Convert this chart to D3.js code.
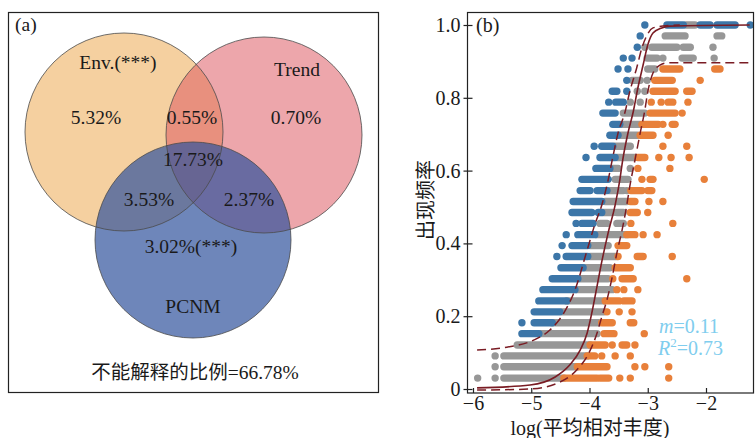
<!DOCTYPE html>
<html><head><meta charset="utf-8">
<script src="https://cdn.jsdelivr.net/npm/d3@7/dist/d3.min.js"></script>
<style>
html,body{margin:0;padding:0;background:#fff;}
svg text{font-family:'Liberation Serif','Times New Roman','Noto Sans CJK SC',serif;}
</style>
</head><body>
<svg id="chart" width="755" height="438"></svg>
<script>
// ---------- Panel (a): variance partitioning (Venn) ----------
const vennSets = ["Env.(***)", "Trend", "PCNM"];
const vennColors = ["#F5D0A0", "#DD5760", "#30529C"];
const vennOpacity = [1, 0.53, 0.7];
const vennFractions = {
  envOnly: "5.32%", envTrend: "0.55%", trendOnly: "0.70%",
  all: "17.73%", envPcnm: "3.53%", trendPcnm: "2.37%",
  pcnmOnly: "3.02%(***)"
};
const unexplainedLabel = "不能解释的比例=66.78%";

// ---------- Panel (b): neutral community model ----------
const xTicks = [-6, -5, -4, -3, -2];
const yTicks = [0, 0.2, 0.4, 0.6, 0.8, 1.0];
const xLabel = "log(平均相对丰度)";
const yLabel = "出现频率";
const fitStats = { m: "0.11", r2: "0.73" };

// runs of points: [occurrence frequency, log abundance start, log abundance end]
const blueRuns = [
[1.000,-3.05,-3.05],[1.000,-2.67,-2.39],[1.000,-2.10,-1.93],[1.000,-1.81,-1.50],[1.000,-1.24,-1.24],
[0.970,-3.13,-3.13],
[0.939,-3.18,-3.18],
[0.909,-3.42,-3.42],[0.909,-3.27,-3.27],
[0.879,-3.51,-3.51],[0.879,-3.34,-3.34],
[0.848,-3.36,-3.36],
[0.818,-3.61,-3.53],[0.818,-3.36,-3.36],
[0.788,-3.67,-3.67],[0.788,-3.55,-3.42],
[0.758,-3.77,-3.56],
[0.727,-3.60,-3.48],
[0.697,-3.65,-3.51],
[0.667,-3.92,-3.92],[0.667,-3.79,-3.60],
[0.636,-4.06,-4.06],[0.636,-3.82,-3.56],
[0.606,-3.89,-3.65],
[0.576,-4.13,-3.68],
[0.545,-4.16,-3.99],[0.545,-3.87,-3.70],
[0.515,-4.28,-3.79],
[0.485,-4.30,-3.96],[0.485,-3.85,-3.79],
[0.455,-4.23,-4.23],[0.455,-4.13,-3.94],
[0.424,-4.40,-4.40],[0.424,-4.20,-3.91],
[0.394,-4.47,-4.47],[0.394,-4.30,-4.03],
[0.364,-4.56,-4.56],[0.364,-4.40,-4.03],
[0.333,-4.49,-4.11],
[0.303,-4.64,-4.20],
[0.273,-4.80,-4.25],
[0.242,-4.87,-4.39],
[0.212,-4.95,-4.51],
[0.182,-5.16,-5.16],[0.182,-4.95,-4.64],
[0.152,-5.16,-4.87]
];
const grayRuns = [
[1.000,-2.34,-2.19],
[0.970,-2.70,-2.36],[0.970,-1.81,-1.73],
[0.939,-3.05,-3.05],[0.939,-2.93,-2.50],[0.939,-2.39,-2.27],[0.939,-1.88,-1.88],
[0.909,-3.01,-2.84],[0.909,-2.74,-2.74],[0.909,-2.41,-2.22],[0.909,-1.86,-1.86],
[0.879,-3.00,-2.88],
[0.848,-3.27,-3.13],[0.848,-3.01,-3.01],
[0.818,-3.18,-3.18],[0.818,-3.05,-3.05],
[0.788,-3.30,-3.30],[0.788,-3.13,-3.13],
[0.758,-3.42,-3.05],
[0.727,-3.44,-3.13],
[0.697,-3.48,-3.18],
[0.667,-3.56,-3.30],
[0.636,-3.53,-3.22],
[0.606,-3.61,-3.51],[0.606,-3.30,-3.30],
[0.576,-3.56,-3.34],
[0.545,-3.67,-3.42],[0.545,-3.36,-3.36],
[0.515,-3.73,-3.36],
[0.485,-3.77,-3.60],[0.485,-3.53,-3.42],
[0.455,-3.82,-3.70],[0.455,-3.53,-3.42],
[0.424,-3.87,-3.36],
[0.394,-3.99,-3.68],
[0.364,-3.99,-3.53],
[0.333,-4.08,-3.65],
[0.303,-4.16,-3.68],
[0.273,-4.21,-3.61],
[0.242,-4.39,-3.75],
[0.212,-4.47,-3.75],
[0.182,-4.64,-3.84],
[0.152,-4.87,-3.87],
[0.121,-5.24,-3.99],
[0.091,-5.62,-5.62],[0.091,-5.47,-4.04],
[0.061,-5.62,-5.62],[0.061,-5.47,-4.21],
[0.030,-5.92,-5.92],[0.030,-5.62,-5.62],[0.030,-5.47,-4.44]
];
const orangeRuns = [
[0.879,-2.74,-2.45],[0.879,-1.85,-1.76],
[0.848,-2.88,-2.58],[0.848,-2.10,-2.10],
[0.818,-2.91,-2.53],[0.818,-2.33,-2.24],
[0.788,-2.94,-2.94],[0.788,-2.77,-2.77],[0.788,-2.65,-2.57],[0.788,-2.31,-2.31],
[0.758,-2.96,-2.53],[0.758,-2.41,-2.41],
[0.727,-3.10,-2.82],[0.727,-2.74,-2.74],[0.727,-2.58,-2.53],
[0.697,-3.13,-2.91],[0.697,-2.65,-2.65],
[0.667,-2.74,-2.74],[0.667,-2.33,-2.33],
[0.636,-3.17,-3.05],[0.636,-2.81,-2.81],[0.636,-2.60,-2.60],[0.636,-2.29,-2.29],
[0.606,-3.17,-3.17],[0.606,-2.62,-2.62],
[0.576,-3.10,-3.10],[0.576,-2.96,-2.91],[0.576,-2.03,-2.03],
[0.545,-3.29,-3.10],[0.545,-3.00,-2.93],
[0.515,-3.30,-3.22],[0.515,-2.98,-2.98],[0.515,-2.74,-2.74],
[0.485,-3.30,-3.18],[0.485,-3.00,-3.00],
[0.455,-3.29,-3.29],[0.455,-2.57,-2.57],
[0.424,-3.36,-3.22],[0.424,-3.08,-3.08],[0.424,-2.84,-2.84],
[0.394,-3.51,-3.36],
[0.364,-3.51,-3.51],[0.364,-3.18,-3.08],[0.364,-2.58,-2.58],
[0.333,-3.56,-3.30],
[0.303,-3.60,-3.60],[0.303,-3.44,-3.25],[0.303,-2.33,-2.33],
[0.273,-3.53,-3.53],[0.273,-3.41,-3.41],[0.273,-3.17,-3.17],
[0.242,-3.73,-3.49],[0.242,-3.41,-3.27],
[0.212,-3.70,-3.70],[0.212,-3.49,-3.49],[0.212,-3.27,-3.27],
[0.182,-3.79,-3.61],[0.182,-3.30,-3.24],
[0.152,-3.75,-3.58],[0.152,-3.06,-3.06],
[0.121,-3.99,-3.73],[0.121,-3.61,-3.61],[0.121,-3.44,-3.36],[0.121,-3.22,-3.22],
[0.091,-4.04,-3.91],[0.091,-3.79,-3.79],[0.091,-3.56,-3.56],[0.091,-3.30,-3.30],
[0.061,-4.21,-3.70],[0.061,-3.22,-3.22],[0.061,-3.05,-3.05],[0.061,-2.64,-2.64],
[0.030,-4.44,-3.87],[0.030,-3.82,-3.67],[0.030,-3.48,-3.48],[0.030,-3.30,-3.30],[0.030,-2.64,-2.64]
];

// fitted model curve and 95% confidence bounds [log abundance, frequency]
const fitCurve = [[-5.93,0.003],[-5.02,0.011],[-4.59,0.033],[-4.34,0.066],[-4.16,0.107],[-4.04,0.154],
[-3.96,0.209],[-3.89,0.266],[-3.79,0.349],[-3.68,0.429],[-3.56,0.505],[-3.48,0.574],[-3.43,0.629],
[-3.34,0.703],[-3.25,0.761],[-3.17,0.827],[-3.08,0.890],[-3.00,0.945],[-2.91,0.978],[-2.76,0.992],
[-2.62,0.997],[-1.25,1.0]];
const upperBound = [[-5.93,0.107],[-5.42,0.115],[-4.95,0.135],[-4.68,0.162],[-4.44,0.209],[-4.25,0.272],
[-4.04,0.382],[-3.91,0.451],[-3.79,0.505],[-3.68,0.574],[-3.60,0.637],[-3.51,0.703],[-3.39,0.761],
[-3.31,0.816],[-3.19,0.882],[-3.10,0.937],[-3.01,0.973],[-2.91,0.992],[-2.74,0.997],[-2.45,1.0]];
const lowerBound = [[-5.93,-0.003],[-5.02,0.0],[-4.51,0.019],[-4.22,0.052],[-4.01,0.099],[-3.87,0.154],
[-3.79,0.198],[-3.70,0.245],[-3.61,0.308],[-3.53,0.374],[-3.44,0.437],[-3.36,0.505],[-3.31,0.555],
[-3.22,0.629],[-3.13,0.703],[-3.05,0.766],[-3.00,0.816],[-2.91,0.868],[-2.79,0.890],[-2.67,0.896],
[-1.21,0.896]];

// ================= drawing =================
const svg = d3.select("#chart");
svg.append("rect").attr("width",755).attr("height",438).attr("fill","#fff");

// ----- Panel (a)
const ga = svg.append("g");
ga.append("rect").attr("x",8.5).attr("y",12.5).attr("width",370).attr("height",380)
  .attr("fill","none").attr("stroke","#222").attr("stroke-width",1.2);
const circ = [{cx:124,cy:132,r:99},{cx:264,cy:135,r:98},{cx:193,cy:240,r:98}];
circ.forEach((c,i)=>{
  ga.append("circle").attr("cx",c.cx).attr("cy",c.cy).attr("r",c.r)
    .attr("fill",vennColors[i]).attr("fill-opacity",vennOpacity[i]);
});
circ.forEach(c=>{
  ga.append("circle").attr("cx",c.cx).attr("cy",c.cy).attr("r",c.r)
    .attr("fill","none").attr("stroke","#4a4a4a").attr("stroke-width",0.8);
});
const aFont = 19.5;
const aTexts = [
  [vennSets[0],118,69],[vennSets[1],297,76],
  [vennFractions.envOnly,96,124],[vennFractions.envTrend,192,124],[vennFractions.trendOnly,296,124],
  [vennFractions.all,193,166],[vennFractions.envPcnm,149,206],[vennFractions.trendPcnm,249,206],
  [vennFractions.pcnmOnly,191,253],[vennSets[2],193,313],[unexplainedLabel,195,379]
];
aTexts.forEach(t=>{
  ga.append("text").attr("x",t[1]).attr("y",t[2]).attr("text-anchor","middle")
    .attr("font-size",aFont).attr("fill","#1a1a1a").text(t[0]);
});
ga.append("text").attr("x",15).attr("y",31).attr("font-size",aFont).attr("fill","#1a1a1a").text("(a)");

// ----- Panel (b)
const x = d3.scaleLinear().domain([-6,-2]).range([473,706]);
const y = d3.scaleLinear().domain([0,1]).range([389,25]);
const frame = {l:467.5, r:753.5, t:12.5, b:393};
const gb = svg.append("g");
const clip = svg.append("defs").append("clipPath").attr("id","plotclip");
clip.append("rect").attr("x",frame.l).attr("y",frame.t).attr("width",frame.r-frame.l).attr("height",frame.b-frame.t);
const plot = gb.append("g").attr("clip-path","url(#plotclip)");
const R = 3.7;
function drawRuns(runs,color){
  plot.append("g").selectAll("rect").data(runs).join("rect")
    .attr("x",d=>x(d[1])-R).attr("y",d=>y(d[0])-R)
    .attr("width",d=>x(d[2])-x(d[1])+2*R).attr("height",2*R)
    .attr("rx",R).attr("ry",R).attr("fill",color);
}
drawRuns(grayRuns,"#979797");
drawRuns(blueRuns,"#3C76A8");
drawRuns(orangeRuns,"#E8803A");

const line = d3.line().x(d=>x(d[0])).y(d=>y(d[1])).curve(d3.curveMonotoneX);
const curveColor = "#7A1C24";
plot.append("path").attr("d",line(upperBound)).attr("fill","none").attr("stroke",curveColor)
  .attr("stroke-width",1.5).attr("stroke-dasharray","9,5");
plot.append("path").attr("d",line(lowerBound)).attr("fill","none").attr("stroke",curveColor)
  .attr("stroke-width",1.5).attr("stroke-dasharray","9,5");
plot.append("path").attr("d",line(fitCurve)).attr("fill","none").attr("stroke",curveColor)
  .attr("stroke-width",1.6);

// frame
gb.append("rect").attr("x",frame.l).attr("y",frame.t).attr("width",frame.r-frame.l).attr("height",frame.b-frame.t)
  .attr("fill","none").attr("stroke","#222").attr("stroke-width",1.2);

// axes
const xAxis = gb.append("g").attr("transform",`translate(0,${frame.b})`)
  .call(d3.axisBottom(x).tickValues(xTicks).tickSizeInner(-5).tickSizeOuter(0).tickPadding(3)
    .tickFormat(d3.format("d")));
xAxis.select(".domain").remove();
xAxis.selectAll("text").attr("font-size",20).attr("fill","#1a1a1a")
  .style("font-family","'Liberation Serif',serif");
xAxis.selectAll("line").attr("stroke","#222").attr("stroke-width",1.2);

const yAxis = gb.append("g").attr("transform",`translate(${frame.l},0)`)
  .call(d3.axisLeft(y).tickValues(yTicks).tickSizeInner(4).tickSizeOuter(0).tickPadding(3)
    .tickFormat(d=> d===0 ? "0" : d3.format(".1f")(d)));
yAxis.select(".domain").remove();
yAxis.selectAll("line").attr("x1",5).attr("stroke","#222").attr("stroke-width",1.2);
yAxis.selectAll("text").attr("font-size",20).attr("fill","#1a1a1a")
  .style("font-family","'Liberation Serif',serif");

gb.append("text").attr("x",590).attr("y",435).attr("text-anchor","middle").attr("font-size",20)
  .attr("fill","#1a1a1a").text(xLabel);
gb.append("text").attr("transform","translate(433,200) rotate(-90)").attr("text-anchor","middle")
  .attr("font-size",20).attr("fill","#1a1a1a").text(yLabel);
gb.append("text").attr("x",476).attr("y",32).attr("font-size",20).attr("fill","#1a1a1a").text("(b)");

const statColor = "#80CDEE";
const t1 = gb.append("text").attr("x",659).attr("y",333).attr("font-size",20).attr("fill",statColor);
t1.append("tspan").attr("font-style","italic").text("m");
t1.append("tspan").text("=" + fitStats.m);
const t2 = gb.append("text").attr("x",658).attr("y",355).attr("font-size",20).attr("fill",statColor);
t2.append("tspan").attr("font-style","italic").text("R");
t2.append("tspan").attr("font-size",13).attr("dy",-8).text("2");
t2.append("tspan").attr("dy",8).text("=" + fitStats.r2);
</script>
</body></html>
